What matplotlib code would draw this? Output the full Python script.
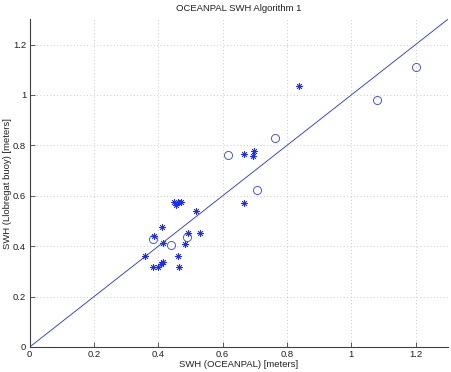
import matplotlib
matplotlib.use("Agg")
import matplotlib.pyplot as plt

plt.rcParams['font.family'] = ['Liberation Sans', 'DejaVu Sans']

# Star-marker data (SWH OCEANPAL vs Llobregat buoy)
star_x = [0.450, 0.456, 0.462, 0.470, 0.518, 0.411, 0.386, 0.493, 0.529, 0.416,
          0.482, 0.359, 0.461, 0.383, 0.399, 0.409, 0.416, 0.464, 0.668, 0.699,
          0.694, 0.668, 0.839]
star_y = [0.574, 0.565, 0.577, 0.577, 0.539, 0.475, 0.442, 0.453, 0.453, 0.412,
          0.409, 0.360, 0.360, 0.316, 0.319, 0.330, 0.336, 0.316, 0.764, 0.777,
          0.757, 0.570, 1.035]
# Circle-marker data
circ_x = [0.383, 0.438, 0.490, 0.618, 0.707, 0.764, 1.079, 1.200]
circ_y = [0.430, 0.405, 0.435, 0.760, 0.622, 0.828, 0.981, 1.110]
# 1:1 reference line
ref_x = [0.0, 1.3]
ref_y = [0.0, 1.3]

xticks = [0, 0.2, 0.4, 0.6, 0.8, 1.0, 1.2]
xticklabels = ['0', '0.2', '0.4', '0.6', '0.8', '1', '1.2']
yticks = [0, 0.2, 0.4, 0.6, 0.8, 1.0, 1.2]
yticklabels = ['0', '0.2', '0.4', '0.6', '0.8', '1', '1.2']

fig = plt.figure(figsize=(4.52, 3.72), dpi=100)
ax = fig.add_axes([29.7 / 452, 25 / 372, 418 / 452, 327.6 / 372])

ax.plot(ref_x, ref_y, color='#1a2cff', linewidth=0.6, clip_on=True)
ax.plot(star_x, star_y, linestyle='none', marker=(8, 2, 0), markersize=4.8,
        markeredgewidth=0.55, color='#1a2cff')
ax.plot(circ_x, circ_y, linestyle='none', marker='o', markersize=5.8,
        markerfacecolor='none', markeredgewidth=0.55, markeredgecolor='#1a2cff')

ax.set_xlim(0, 1.3)
ax.set_ylim(0, 1.3)
ax.set_xticks(xticks)
ax.set_xticklabels(xticklabels)
ax.set_yticks(yticks)
ax.set_yticklabels(yticklabels)
ax.set_axisbelow(True)
ax.grid(True, color='#b8b8b8', linestyle=(0, (1, 3)), linewidth=0.6)
for s in ['top', 'right']:
    ax.spines[s].set_visible(False)
for s in ['left', 'bottom']:
    ax.spines[s].set_color('#404040')
    ax.spines[s].set_linewidth(0.8)
ax.tick_params(axis='both', direction='in', length=3.5, width=0.6,
               labelsize=6.8, colors='#404040', labelcolor='#202020', pad=2.5)

ax.set_title('OCEANPAL SWH Algorithm 1', fontsize=6.8, color='#202020', pad=6)
ax.set_xlabel('SWH (OCEANPAL) [meters]', fontsize=6.8, color='#202020', labelpad=0.5)
ax.set_ylabel('SWH (Llobregat buoy) [meters]', fontsize=6.8, color='#202020', labelpad=0.5)

fig.savefig('out.png', dpi=100)
